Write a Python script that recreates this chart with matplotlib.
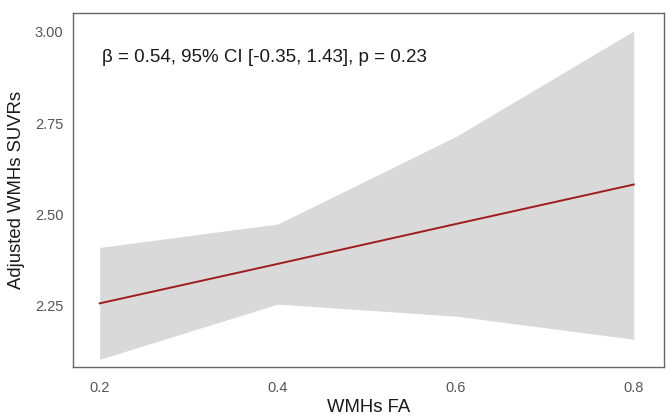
import matplotlib.pyplot as plt

plt.rcParams['font.family'] = ['Liberation Sans', 'DejaVu Sans']

# predicted values and 95% CI band
fa = [0.2, 0.4, 0.6, 0.8]
fit = [2.257, 2.365, 2.474, 2.582]
ci_low = [2.104, 2.255, 2.222, 2.159]
ci_high = [2.410, 2.474, 2.713, 3.002]

xticks = [0.2, 0.4, 0.6, 0.8]
yticks = [2.25, 2.50, 2.75, 3.00]
stats_text = "β = 0.54, 95% CI [-0.35, 1.43], p = 0.23"

fig = plt.figure(figsize=(6.71, 4.18), dpi=100)
ax = fig.add_axes([0.1088, 0.122, 0.8808, 0.8469])

ax.fill_between(fa, ci_low, ci_high, color="#d9d9d9", lw=0)
ax.plot(fa, fit, color="#a01c1c", lw=1.4)

ax.set_xlim(0.17, 0.834)
ax.set_ylim(2.083, 3.051)
ax.set_xticks(xticks)
ax.set_xticklabels([f"{v:.1f}" for v in xticks])
ax.set_yticks(yticks)
ax.set_yticklabels([f"{v:.2f}" for v in yticks])
ax.tick_params(length=0, labelsize=10.5, labelcolor="#555555")
ax.tick_params(axis="x", pad=10)
ax.tick_params(axis="y", pad=7)

for s in ax.spines.values():
    s.set_color("#666666")
    s.set_linewidth(1)

ax.set_xlabel("WMHs FA", fontsize=13.3, color="#1a1a1a", labelpad=3)
ax.set_ylabel("Adjusted WMHs SUVRs", fontsize=13.3, color="#1a1a1a", labelpad=7)

ax.text(0.203, 2.928, stats_text, fontsize=13.5, color="#1a1a1a",
        ha="left", va="center")

fig.savefig("out.png", dpi=100)
